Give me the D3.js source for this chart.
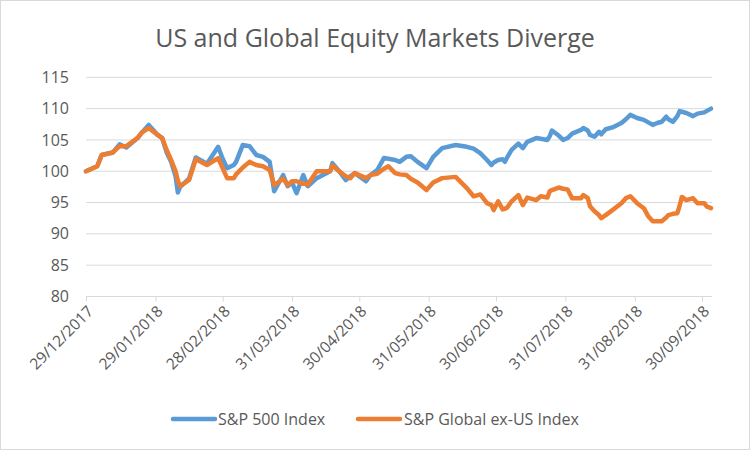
<!DOCTYPE html>
<html><head><meta charset="utf-8">
<script src="https://cdn.jsdelivr.net/npm/d3@7"></script>
<style>body{margin:0;background:#fff;} svg{display:block;}</style>
</head><body>
<svg id="chart" width="750" height="450"></svg>
<script>
const dates = ["2017-12-29","2018-01-03","2018-01-05","2018-01-10","2018-01-13","2018-01-16","2018-01-21","2018-01-23","2018-01-26","2018-01-30",
"2018-02-01","2018-02-03","2018-02-05","2018-02-07","2018-02-08","2018-02-09","2018-02-13","2018-02-16","2018-02-21","2018-02-26",
"2018-02-28","2018-03-02","2018-03-05","2018-03-06","2018-03-09","2018-03-12","2018-03-15","2018-03-18","2018-03-21","2018-03-23",
"2018-03-27","2018-03-29","2018-03-31","2018-04-02","2018-04-05","2018-04-07","2018-04-11","2018-04-17","2018-04-18","2018-04-21",
"2018-04-24","2018-04-26","2018-04-28","2018-05-03","2018-05-05","2018-05-08","2018-05-11","2018-05-13","2018-05-16","2018-05-18",
"2018-05-21","2018-05-23","2018-05-26","2018-05-30","2018-06-02","2018-06-06","2018-06-12","2018-06-17","2018-06-20","2018-06-23",
"2018-06-26","2018-06-28","2018-06-29","2018-07-01","2018-07-03","2018-07-04","2018-07-05","2018-07-07","2018-07-10","2018-07-12",
"2018-07-14","2018-07-18","2018-07-20","2018-07-23","2018-07-24","2018-07-25","2018-07-28","2018-07-30","2018-08-01","2018-08-03",
"2018-08-07","2018-08-08","2018-08-10","2018-08-11","2018-08-13","2018-08-15","2018-08-16","2018-08-18","2018-08-21","2018-08-25",
"2018-08-27","2018-08-29","2018-09-01","2018-09-04","2018-09-06","2018-09-08","2018-09-10","2018-09-12","2018-09-14","2018-09-15",
"2018-09-17","2018-09-19","2018-09-20","2018-09-21","2018-09-23","2018-09-26","2018-09-28","2018-10-01","2018-10-02","2018-10-04"];

const sp500 = [100,100.8,102.6,103.0,104.3,103.8,105.3,106.2,107.4,105.8,
105.3,103.0,101.5,99.2,96.6,97.5,98.8,102.2,101.2,103.9,
102.0,100.5,101.0,101.5,104.2,104.0,102.6,102.3,101.5,96.8,
99.4,97.6,98.2,96.5,99.4,97.6,98.9,100.0,101.3,100.0,
98.6,99.2,99.7,98.4,99.4,100.2,102.1,102.0,101.8,101.5,
102.3,102.4,101.5,100.5,102.3,103.7,104.2,103.9,103.6,102.9,
101.8,101.0,101.4,101.8,101.9,101.5,102.2,103.4,104.4,103.7,
104.7,105.3,105.2,105.0,105.6,106.5,105.7,105.0,105.3,106.0,
106.6,106.9,106.5,105.8,105.5,106.3,105.9,106.7,107.0,107.7,
108.3,109.0,108.5,108.2,107.8,107.4,107.7,107.9,108.7,108.3,
107.9,108.8,109.6,109.5,109.3,108.8,109.2,109.4,109.6,110.0];

const globalExUS = [100,100.8,102.6,103.0,104.0,104.0,105.3,106.2,106.9,105.8,
105.3,103.4,101.8,100.0,98.5,97.6,98.6,101.9,101.0,102.1,
100.5,98.9,98.9,99.5,100.6,101.5,101.0,100.8,100.2,97.8,
98.8,97.8,98.4,98.4,98.0,97.9,100.0,100.0,100.9,100.0,
99.2,98.9,99.7,98.9,99.4,99.6,100.4,100.8,99.7,99.5,
99.4,98.8,98.2,97.0,98.2,98.9,99.1,97.3,96.0,96.3,
94.9,94.6,93.8,95.2,93.9,94.0,94.2,95.2,96.2,94.6,
95.8,95.4,96.0,95.8,96.8,97.0,97.4,97.2,97.1,95.7,
95.7,96.2,95.7,94.4,93.6,93.0,92.5,93.0,93.8,94.9,
95.7,96.0,94.9,94.1,92.8,92.0,92.0,92.0,92.6,93.0,
93.2,93.3,94.5,95.9,95.4,95.7,94.9,94.9,94.4,94.1];

const yTicks = [80,85,90,95,100,105,110,115];
const xTickLabels = ["29/12/2017","29/01/2018","28/02/2018","31/03/2018","30/04/2018","31/05/2018","30/06/2018","31/07/2018","31/08/2018","30/09/2018"];
const seriesNames = ["S&P 500 Index","S&P Global ex-US Index"];
const colors = ["#5B9BD5","#ED7D31"];

const parse = d3.timeParse("%Y-%m-%d");
const parseLabel = d3.timeParse("%d/%m/%Y");
const fmt = d3.timeFormat("%d/%m/%Y");
const font = "'Open Sans', sans-serif";

const svg = d3.select("#chart");
svg.append("rect").attr("x",0.5).attr("y",0.5).attr("width",749).attr("height",449)
  .attr("fill","#fff").attr("stroke","#d9d9d9");

const x = d3.scaleTime().domain([parse("2017-12-29"), parse("2018-10-04")]).range([86, 711]);
const y = d3.scaleLinear().domain([80,115]).range([296.5, 77.3]);

svg.append("text").attr("x",375).attr("y",47).attr("text-anchor","middle")
  .attr("font-family",font).attr("font-size",25).attr("fill","#595959")
  .text("US and Global Equity Markets Diverge");

// gridlines
svg.append("g").selectAll("line").data(yTicks.filter(v=>v!==80)).join("line")
  .attr("x1",86).attr("x2",712).attr("y1",d=>y(d)).attr("y2",d=>y(d))
  .attr("stroke","#d9d9d9").attr("stroke-width",1);

// y axis labels
const yAxis = svg.append("g").attr("transform","translate(86,0)")
  .call(d3.axisLeft(y).tickValues(yTicks).tickSize(0).tickPadding(17));
yAxis.select(".domain").remove();
yAxis.selectAll("text").attr("font-family",font).attr("font-size",16).attr("fill","#595959");

// x axis
const xAxis = svg.append("g").attr("transform",`translate(0,${y(80)})`)
  .call(d3.axisBottom(x).tickValues(xTickLabels.map(parseLabel)).tickFormat(fmt).tickSize(5).tickSizeOuter(0));
xAxis.select(".domain").attr("stroke","#d9d9d9").attr("d",`M86,0H712`);
xAxis.selectAll(".tick line").attr("stroke","#d9d9d9");
xAxis.selectAll("text").attr("font-family",font).attr("font-size",15.5).attr("fill","#595959")
  .attr("text-anchor","end").attr("dy","0.35em")
  .attr("transform","translate(4,12) rotate(-45)").attr("x",0).attr("y",0);

const rows = dates.map((d,i)=>({date:parse(d), s:sp500[i], g:globalExUS[i]}));
const line = key => d3.line().x(d=>x(d.date)).y(d=>y(d[key]));
svg.append("path").datum(rows).attr("d",line("s")).attr("fill","none")
  .attr("stroke",colors[0]).attr("stroke-width",4.5).attr("stroke-linejoin","round").attr("stroke-linecap","round");
svg.append("path").datum(rows).attr("d",line("g")).attr("fill","none")
  .attr("stroke",colors[1]).attr("stroke-width",4.5).attr("stroke-linejoin","round").attr("stroke-linecap","round");

// legend
const leg = [{x1:173,x2:215,tx:218},{x1:358,x2:400,tx:404}];
leg.forEach((l,i)=>{
  svg.append("line").attr("x1",l.x1).attr("x2",l.x2).attr("y1",419).attr("y2",419)
    .attr("stroke",colors[i]).attr("stroke-width",4.5).attr("stroke-linecap","round");
  svg.append("text").attr("x",l.tx).attr("y",419).attr("dy","0.35em")
    .attr("font-family",font).attr("font-size",16).attr("fill","#595959").text(seriesNames[i]);
});
</script>
</body></html>
